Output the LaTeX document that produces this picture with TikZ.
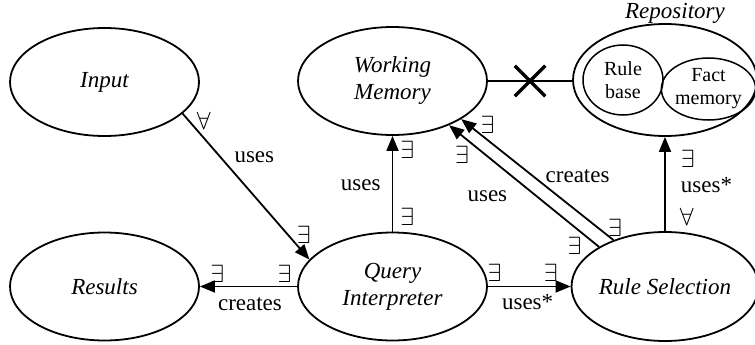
\documentclass[tikz,border=0pt]{standalone}
\usepackage{fontspec}
\setmainfont{Liberation Serif}
\usetikzlibrary{shapes,arrows.meta,positioning}

\begin{document}
\begin{tikzpicture}[x=1pt,y=-1pt,
entity/.style = {draw, ellipse, line width=1.8pt, inner sep=0pt, minimum width=189pt,
                 minimum height=108pt, align=center, font=\fontsize{23}{27}\selectfont\itshape},
part/.style = {draw, ellipse, line width=1.5pt, inner sep=0pt, align=center,
               font=\fontsize{20}{23}\selectfont},
line/.style = {draw, line width=1.8pt, -{Triangle[length=15pt,width=12pt]}},
rel/.style = {font=\fontsize{23}{25}\selectfont, inner sep=2pt},
qnt/.style = {font=\fontsize{24}{24}\selectfont, inner sep=1pt}]

\useasboundingbox (0,0) rectangle (755,345);

% top row
\node [entity] (input) at (104.5,82) {Input};
\node [entity] (memory) at (392.5,81) {Working\\Memory};
\node [entity, minimum width=184pt, minimum height=112pt] (repo) at (665,80) {};
\node [part, minimum width=80pt, minimum height=70pt] (rules) at (623,80) {Rule\\base};
\node [part, minimum width=83pt, minimum height=62pt] (facts) at (708.5,89) {Fact\\memory};
\node [rel, font=\fontsize{23}{25}\selectfont\itshape] (repolabel) at (675,13) {Repository};

% bottom row
\node [entity] (results) at (104.5,286.5) {Results};
\node [entity] (query) at (392.5,286.5) {Query\\Interpreter};
\node [entity, minimum width=184pt, minimum height=109pt] (select) at (665,286.5) {Rule Selection};

\draw [line width=1.8pt] (memory.east) -- node [cross out, draw, line width=3.5pt,
  minimum size=27pt, inner sep=0pt] (nolink) {} (memory.east -| repo.west);

\begin{scope}[every path/.style=line]
\path (input.-22) -- node [qnt, pos=0.05, right=6pt] {$\forall$}
  node [rel, pos=0.3, right=11pt] {uses}
  node [qnt, pos=0.83, right=7pt] {$\exists$} (query.162);

\path (query.west) -- node [qnt, pos=0.13, above=2pt] {$\exists$}
  node [rel, pos=0.485, below=8pt] {creates}
  node [qnt, pos=0.82, above=2pt] {$\exists$} (results.east);

\path (query.east) -- node [qnt, pos=0.08, above=3pt] {$\exists$}
  node [rel, pos=0.48, below=5pt] {uses*}
  node [qnt, pos=0.76, above=3pt] {$\exists$} (select.west);

\path (query.north) -- node [qnt, pos=0.15, right=6pt] {$\exists$}
  node [rel, pos=0.48, left=9pt] {uses}
  node [qnt, pos=0.85, right=6pt] {$\exists$} (memory.south);

\path (select.149) -- node [qnt, pos=0.1, below left=1pt] {$\exists$}
  node [rel, pos=0.42, left=26pt] {uses}
  node [qnt, pos=0.85, below left=1pt] {$\exists$} (memory.-38.7);

\path (select.138.3) -- node [qnt, pos=0.1, right=8pt] {$\exists$}
  node [rel, pos=0.53, right=10pt] {creates}
  node [qnt, pos=0.95, right=10pt] {$\exists$} (memory.-29.6);

\path (select.north) -- node [qnt, pos=0.155, right=13pt] {$\forall$}
  node [rel, pos=0.49, right=13pt] {uses*}
  node [qnt, pos=0.77, right=14pt] {$\exists$} (repo.south);
\end{scope}
\end{tikzpicture}
\end{document}
